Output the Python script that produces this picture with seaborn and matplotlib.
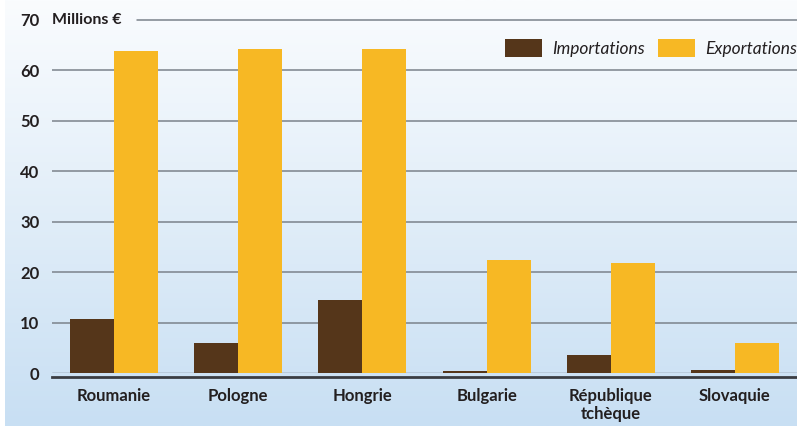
import numpy as np
import pandas as pd
import matplotlib
matplotlib.use("Agg")
import matplotlib.pyplot as plt
import seaborn as sns

pays = ["Roumanie", "Pologne", "Hongrie", "Bulgarie", "République\ntchèque", "Slovaquie"]
importations = [10.7, 6.0, 14.5, 0.45, 3.6, 0.6]
exportations = [63.8, 64.2, 64.2, 22.5, 21.9, 6.0]
series = ["Importations", "Exportations"]
y_ticks = [0, 10, 20, 30, 40, 50, 60, 70]

df = pd.DataFrame({
    "pays": pays * 2,
    "valeur": importations + exportations,
    "flux": [series[0]] * len(pays) + [series[1]] * len(pays),
})

sns.set_theme(style="white")
plt.rcParams["font.family"] = ["Lato", "DejaVu Sans"]

fig = plt.figure(figsize=(7.97, 4.26), dpi=100)
fig.patch.set_facecolor("white")

# fond en dégradé
bg = fig.add_axes([5 / 797, 0, 1 - 5 / 797, 1])
grad = np.linspace(0, 1, 256).reshape(-1, 1)
cmap = matplotlib.colors.LinearSegmentedColormap.from_list("bg", ["#fafcfe", "#c8dff3"])
bg.imshow(grad, aspect="auto", cmap=cmap, extent=[0, 1, 0, 1], origin="upper")
bg.set_axis_off()

ax = fig.add_axes([52 / 797, 53 / 426, 745 / 797, 353 / 426])
ax.set_facecolor("none")

for v in y_ticks[1:-1]:
    ax.axhline(v, color="#7b828b", lw=1.1, zorder=0)
ax.axhline(70, xmin=(137 - 52) / 745, xmax=1, color="#7b828b", lw=1.1, zorder=0, clip_on=False)
ax.axhline(0, color="#6b7078", lw=1.0, zorder=0)

sns.barplot(data=df, x="pays", y="valeur", hue="flux", hue_order=series,
            palette=["#55361a", "#f7b824"], width=0.71, saturation=1,
            gap=0, linewidth=0, edgecolor="none", ax=ax, zorder=2)

# spines d'abord : set_position remet les ticks à zéro
for s in ["top", "right", "left"]:
    ax.spines[s].set_visible(False)
ax.spines["bottom"].set_position(("outward", 3))
ax.spines["bottom"].set_linewidth(2)
ax.spines["bottom"].set_color("#3a3d42")

ax.set_ylim(0, 70)
ax.set_xlim(-0.5, 5.5)
ax.set_xlabel("")
ax.set_ylabel("")
ax.set_yticks(y_ticks)
ax.set_yticklabels([str(v) for v in y_ticks], fontsize=12, fontweight="bold", color="#231f20")
ax.tick_params(axis="y", length=0, pad=9)
ax.set_xticks(range(len(pays)))
ax.tick_params(axis="x", which="major", length=0, pad=8)
ax.set_xticklabels(pays, fontsize=12, fontweight="bold", color="#231f20", linespacing=1.1)
ax.set_xticks(np.arange(-0.5, 5.6, 1), minor=True)
ax.tick_params(axis="x", which="minor", direction="in", length=6.5, width=1.2, color="#55595f")

ax.text(0.0, 70, "Millions €", fontsize=11.5, fontweight="bold", color="#231f20",
        va="center", ha="left", transform=ax.get_yaxis_transform())

leg = ax.legend(loc="upper right", bbox_to_anchor=(1.021, 0.99), ncol=2, frameon=False,
                handlelength=2.1, handleheight=1.2, columnspacing=0.75, handletextpad=0.6,
                prop={"style": "italic", "size": 12.5})
for t in leg.get_texts():
    t.set_color("#231f20")

fig.savefig("out.png", dpi=100)
